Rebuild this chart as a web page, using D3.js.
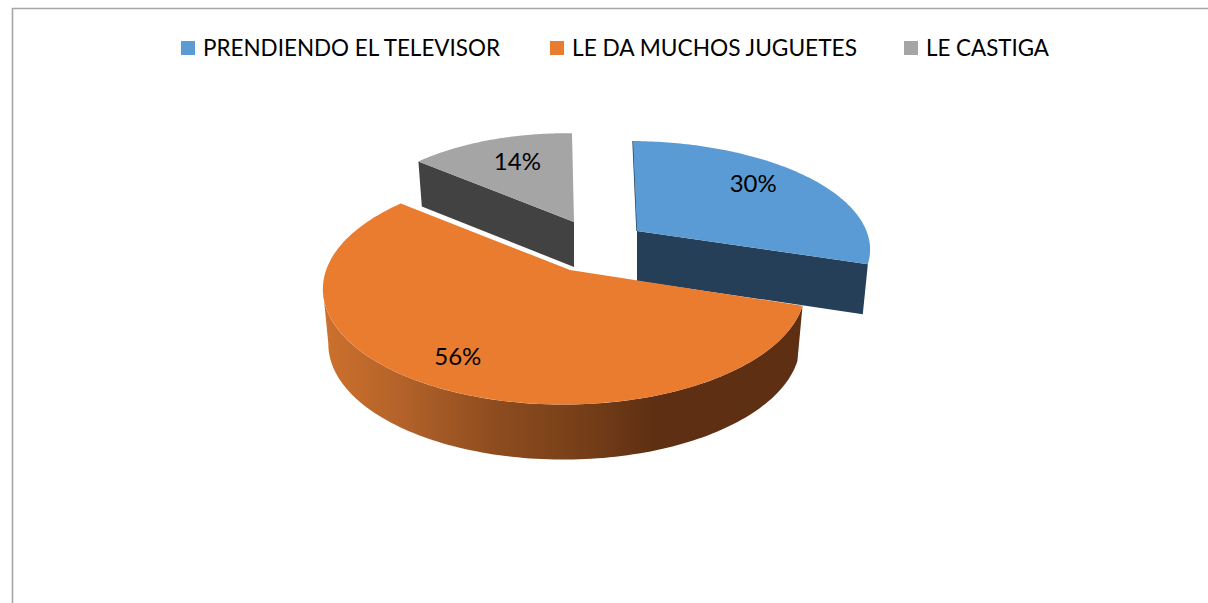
<!DOCTYPE html>
<html><head><meta charset="utf-8">
<script src="https://cdn.jsdelivr.net/npm/d3@7"></script>
<style>html,body{margin:0;padding:0;background:#fff;overflow:hidden}svg{display:block}</style>
</head><body><svg id="c" width="1208" height="603"></svg>
<script>
const categories = ["PRENDIENDO EL TELEVISOR", "LE DA MUCHOS JUGUETES", "LE CASTIGA"];
const values = [30, 56, 14];
const faceColors = ["#5B9BD5", "#EA7C30", "#A5A5A5"];
const wallColors = ["#243F57", null, "#424242"];
const legendSwatchX = [181, 550, 904];
const legendTextWidth = [297, 285, 123];

// layout of each exploded slice
const centers = [[637, 231], [570, 270], [574, 222]];
const radiiX = [235, 238, 217];
const radiiY = [104.4, 113, 103];
const depths = [50, 55, 45];
const lean = [-4, 0, -2];
const labelRadius = [0.69, 0.83, 0.68];
const labelShift = [-10, -11, -6];
const persp = 0.16, tilt = 0.024, taper = 0.022;

const svg = d3.select("#c");
const defs = svg.append("defs");
const grad = defs.append("linearGradient").attr("id", "wall")
  .attr("gradientUnits", "userSpaceOnUse").attr("x1", 327).attr("x2", 797).attr("y1", 0).attr("y2", 0);
[[0, "#CB702D"], [0.15, "#B5632A"], [0.35, "#8F4D1F"], [0.55, "#753E18"], [0.70, "#5E2F12"], [1, "#5E2F12"]]
  .forEach(([o, c]) => grad.append("stop").attr("offset", o).attr("stop-color", c));

const arcs = d3.pie().sort(null).value(d => d)(values);

function proj(i, a, rho, lower) {
  const w = Math.cos(a), sn = Math.sin(a);
  const s = 1 / (1 + persp * w + tilt * sn);
  const k = lower ? 1 - taper : 1;
  const [cx, cy] = centers[i];
  return [cx + (radiiX[i] * rho * sn * s + lean[i] * w * rho) * k,
          cy - radiiY[i] * rho * w * s + (lower ? depths[i] : 0)];
}
const line = d3.line().curve(d3.curveLinear);
function rim(i, a0, a1, lower) {
  return d3.range(0, 121).map(t => proj(i, a0 + (a1 - a0) * t / 120, 1, lower));
}
const g = svg.append("g");

// cut faces of the two pulled-out slices
function cutFace(i, a) {
  g.append("path").attr("fill", wallColors[i]).attr("d", line([
    proj(i, a, 0, false), proj(i, a, 1, false), proj(i, a, 1, true), proj(i, a, 0, true)]) + "Z");
}
cutFace(2, arcs[2].startAngle);
cutFace(0, arcs[0].endAngle);
// thin sliver on the blue slice's back edge
g.append("path").attr("fill", "none").attr("stroke", wallColors[0]).attr("stroke-width", 1.4)
  .attr("d", line([proj(0, 0, 1, false), proj(0, 0, 0, false)]));

// outer wall of the big slice
const wallEnd = Math.PI * 1.45;
g.append("path").attr("fill", "url(#wall)").attr("d", line(
  rim(1, arcs[1].startAngle, wallEnd, false).concat(rim(1, wallEnd, arcs[1].startAngle, true))) + "Z");

// top faces
arcs.forEach((d, i) => {
  g.append("path").attr("fill", faceColors[i]).attr("d", line(
    [proj(i, 0, 0, false)].concat(rim(i, d.startAngle, d.endAngle, false))) + "Z");
});

// value labels
arcs.forEach((d, i) => {
  const p = proj(i, (d.startAngle + d.endAngle) / 2, labelRadius[i], false);
  svg.append("text").attr("x", p[0]).attr("y", p[1] + labelShift[i])
    .attr("text-anchor", "middle").attr("dominant-baseline", "central")
    .attr("font-family", "Lato, Carlito, sans-serif").attr("font-size", 24).attr("fill", "#000")
    .text(d.data + "%");
});

// legend
categories.forEach((c, i) => {
  svg.append("rect").attr("x", legendSwatchX[i]).attr("y", 41).attr("width", 14).attr("height", 14).attr("fill", faceColors[i]);
  svg.append("text").attr("x", legendSwatchX[i] + 22).attr("y", 56)
    .attr("font-family", "Lato, Carlito, sans-serif").attr("font-size", 24).attr("fill", "#000")
    .attr("textLength", legendTextWidth[i]).attr("lengthAdjust", "spacingAndGlyphs").text(c);
});

// frame
const framePath = d3.path();
framePath.moveTo(12.5, 603); framePath.lineTo(12.5, 8.5); framePath.lineTo(1208, 8.5);
svg.append("path").attr("fill", "none").attr("stroke", "#A6A6A6").attr("stroke-width", 1.6)
  .attr("d", framePath.toString());
</script></body></html>
